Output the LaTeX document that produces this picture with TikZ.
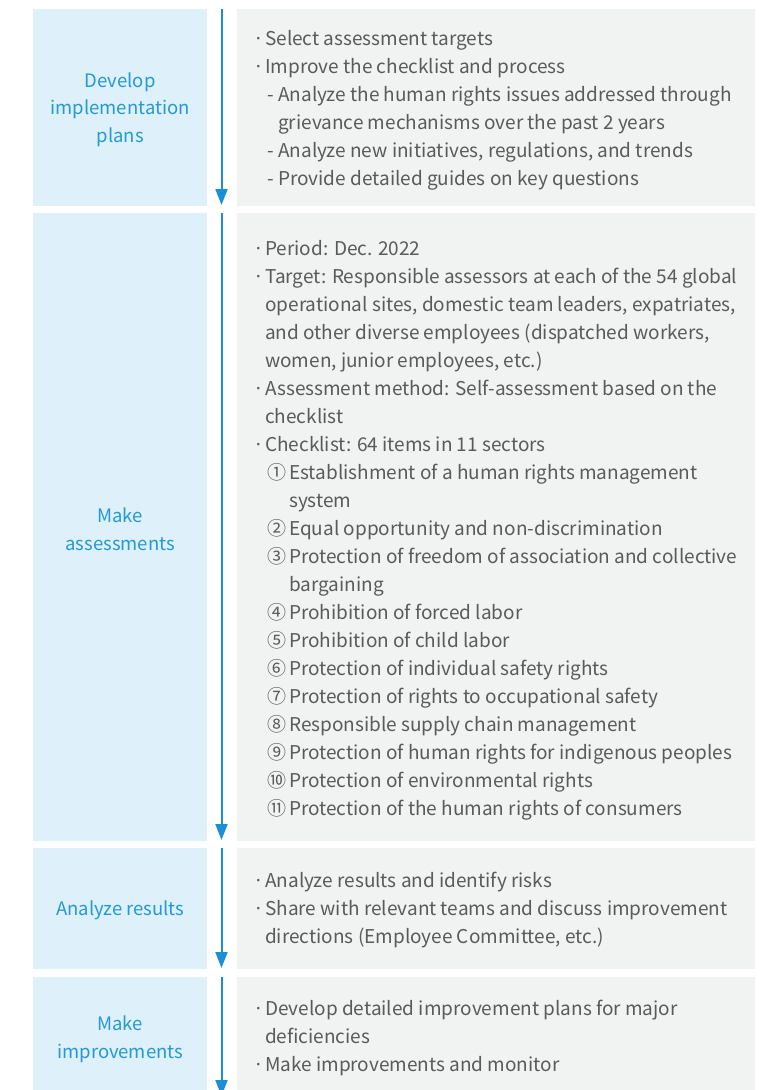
\documentclass[tikz,border=0pt]{standalone}
\usepackage{fontspec}
\setmainfont{Noto Sans CJK KR}
\usetikzlibrary{arrows.meta}
\definecolor{bluefill}{HTML}{DEF0FA}
\definecolor{grayfill}{HTML}{F1F2F2}
\definecolor{bluetext}{HTML}{2399D6}
\definecolor{graytext}{HTML}{5A5A5A}
\definecolor{arrowblue}{HTML}{1A8FD5}
\newcommand{\mybl}{\makebox[12pt][l]{·}}
\newcommand{\mybc}{\hspace*{12pt}}
\newcommand{\mydl}{\hspace*{14pt}\makebox[11pt][l]{-}}
\newcommand{\mydc}{\hspace*{25pt}}
\newcommand{\mycl}[1]{\hspace*{14pt}\makebox[22pt][l]{#1}}
\newcommand{\mycc}{\hspace*{36pt}}
\tikzset{
  lbox/.style={fill=bluefill, draw=none, inner sep=0pt, anchor=north west, minimum width=174pt},
  gbox/.style={fill=grayfill, draw=none, inner sep=0pt, anchor=north west, minimum width=518pt},
  ltext/.style={text=bluetext, align=center, inner sep=0pt, yshift=-2pt, font=\fontsize{18.5}{27.5}\selectfont},
  gtext/.style={text=graytext, align=left, inner sep=0pt, anchor=base west, font=\fontsize{19}{28}\selectfont},
  flow/.style={draw=arrowblue, line width=2pt, -{Triangle[width=12pt,length=16pt]}}
}
\begin{document}
\begin{tikzpicture}[x=1pt,y=-1pt]
\useasboundingbox (0,0) rectangle (769,1090);
\clip (0,0) rectangle (769,1090);
% left boxes
\node[lbox, minimum height=197pt] (b1) at (33,9) {};
\node[lbox, minimum height=628pt] (b2) at (33,213) {};
\node[lbox, minimum height=121pt] (b3) at (33,848) {};
\node[lbox, minimum height=120pt] (b4) at (33,977) {};
% right boxes
\node[gbox, minimum height=197pt] (g1) at (237,9) {};
\node[gbox, minimum height=628pt] (g2) at (237,213) {};
\node[gbox, minimum height=121pt] (g3) at (237,848) {};
\node[gbox, minimum height=120pt] (g4) at (237,977) {};
% labels
\node[ltext] (l1) at (b1.center) {Develop\\implementation\\plans};
\node[ltext] (l2) at (b2.center) {Make\\assessments};
\node[ltext] (l3) at (b3.center) {Analyze results};
\node[ltext] (l4) at (b4.center) {Make\\improvements};
% arrows
\coordinate (a1s) at (221.5,9);   \coordinate (a1e) at (221.5,205);
\coordinate (a2s) at (221.5,213); \coordinate (a2e) at (221.5,840);
\coordinate (a3s) at (221.5,848); \coordinate (a3e) at (221.5,968);
\coordinate (a4s) at (221.5,977); \coordinate (a4e) at (221.5,1096);
\draw[flow] (a1s) -- (a1e);
\draw[flow] (a2s) -- (a2e);
\draw[flow] (a3s) -- (a3e);
\draw[flow] (a4s) -- (a4e);
% texts (base anchor = baseline of the last line)
\node[gtext] (t1) at (253,185) {\mybl Select assessment targets\\
\mybl Improve the checklist and process\\
\mydl Analyze the human rights issues addressed through\\
\mydc grievance mechanisms over the past 2 years\\
\mydl Analyze new initiatives, regulations, and trends\\
\mydl Provide detailed guides on key questions};
\node[gtext] (t2) at (253,815) {\mybl Period: Dec. 2022\\
\mybl Target: Responsible assessors at each of the 54 global\\
\mybc operational sites, domestic team leaders, expatriates,\\
\mybc and other diverse employees (dispatched workers,\\
\mybc women, junior employees, etc.)\\
\mybl Assessment method: Self-assessment based on the\\
\mybc checklist\\
\mybl Checklist: 64 items in 11 sectors\\
\mycl{①}Establishment of a human rights management\\
\mycc system\\
\mycl{②}Equal opportunity and non-discrimination\\
\mycl{③}Protection of freedom of association and collective\\
\mycc bargaining\\
\mycl{④}Prohibition of forced labor\\
\mycl{⑤}Prohibition of child labor\\
\mycl{⑥}Protection of individual safety rights\\
\mycl{⑦}Protection of rights to occupational safety\\
\mycl{⑧}Responsible supply chain management\\
\mycl{⑨}Protection of human rights for indigenous peoples\\
\mycl{⑩}Protection of environmental rights\\
\mycl{⑪}Protection of the human rights of consumers};
\node[gtext] (t3) at (253,943) {\mybl Analyze results and identify risks\\
\mybl Share with relevant teams and discuss improvement\\
\mybc directions (Employee Committee, etc.)};
\node[gtext] (t4) at (253,1071) {\mybl Develop detailed improvement plans for major\\
\mybc deficiencies\\
\mybl Make improvements and monitor};
\end{tikzpicture}
\end{document}
